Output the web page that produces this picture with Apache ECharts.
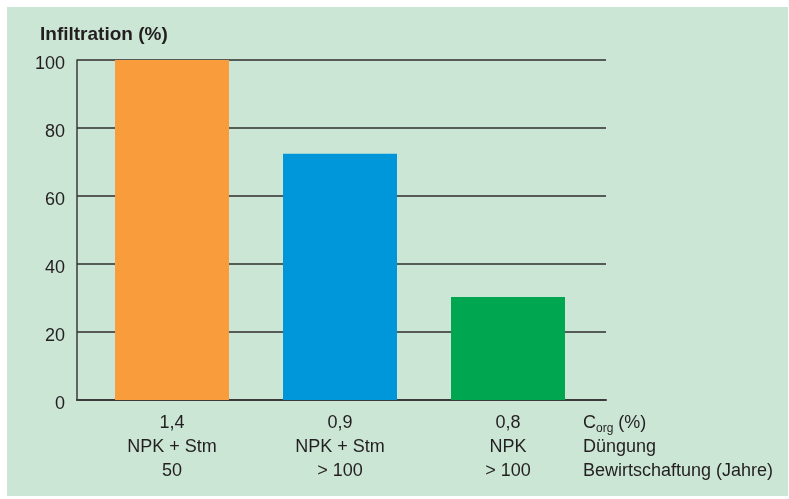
<!DOCTYPE html>
<html>
<head>
<meta charset="utf-8">
<script src="https://cdn.jsdelivr.net/npm/echarts@6/dist/echarts.min.js"></script>
<style>
html,body{margin:0;padding:0;background:#ffffff;}
#chart{width:789px;height:499px;}
</style>
</head>
<body>
<div id="chart"></div>
<script>
const corgValues = ['1,4', '0,9', '0,8'];
const fertilization = ['NPK + Stm', 'NPK + Stm', 'NPK'];
const managementYears = ['50', '> 100', '> 100'];
const infiltration = [100, 72.4, 30.3];
const barColors = ['#F99D3C', '#0096DA', '#00A650'];
const yTicks = [0, 20, 40, 60, 80, 100];
const titleText = 'Infiltration (%)';
const rowLabels = ['Düngung', 'Bewirtschaftung (Jahre)'];

const categories = corgValues.map((c, i) => c + '\n' + fertilization[i] + '\n' + managementYears[i]);
const FONT = '"Liberation Sans", Arial, sans-serif';
const TXT = '#231f20';

const chart = echarts.init(document.getElementById('chart'), null, {renderer: 'canvas'});
chart.setOption({
  animation: false,
  backgroundColor: '#ffffff',
  textStyle: {fontFamily: FONT},
  graphic: [
    {type: 'rect', z: -10, shape: {x: 7, y: 7, width: 781, height: 489}, style: {fill: '#CCE6D6'}},
    {type: 'text', x: 583, y: 411, z: 10, style: {
      text: '{c|C}{s|org}{c| (%)}\n{c|' + rowLabels[0] + '}\n{c|' + rowLabels[1] + '}',
      fontFamily: FONT, fill: TXT, fontSize: 18, lineHeight: 24,
      rich: {
        c: {fontFamily: FONT, fontSize: 18, lineHeight: 24, fill: TXT, color: TXT},
        s: {fontFamily: FONT, fontSize: 12, lineHeight: 20, fill: TXT, color: TXT, verticalAlign: 'bottom'}
      }
    }}
  ],
  title: {
    text: titleText, left: 40, top: 24, padding: 0,
    textStyle: {fontFamily: FONT, fontSize: 19, fontWeight: 'bold', color: TXT, lineHeight: 22}
  },
  grid: [
    {left: 77, right: 183, top: 60, bottom: 99},
    {left: 88, right: 197, top: 60, bottom: 99}
  ],
  xAxis: [
    {gridIndex: 0, type: 'value', min: 0, max: 1, axisLine: {show: true, onZero: false, lineStyle: {color: '#3a3a3a', width: 2}},
     axisTick: {show: false}, axisLabel: {show: false}, splitLine: {show: false}},
    {gridIndex: 1, type: 'category', data: categories, axisLine: {show: false}, axisTick: {show: false},
     axisLabel: {margin: 11, fontFamily: FONT, fontSize: 18, lineHeight: 24, color: TXT, interval: 0}}
  ],
  yAxis: [
    {gridIndex: 0, type: 'value', min: 0, max: 100, interval: 20,
     axisLine: {show: true, lineStyle: {color: '#3a3a3a', width: 1.5}},
     axisTick: {show: false},
     axisLabel: {margin: 12, fontFamily: FONT, fontSize: 18, color: TXT, verticalAlign: 'top', lineHeight: 9,
       formatter: v => yTicks.includes(v) ? String(v) : ''},
     splitLine: {show: true, lineStyle: {color: '#555c57', width: 2}}},
    {gridIndex: 1, type: 'value', min: 0, max: 100, interval: 20, show: false}
  ],
  series: [{
    type: 'bar', xAxisIndex: 1, yAxisIndex: 1, barWidth: 114,
    data: infiltration.map((v, i) => ({value: v, itemStyle: {color: barColors[i]}}))
  }]
});
</script>
</body>
</html>
